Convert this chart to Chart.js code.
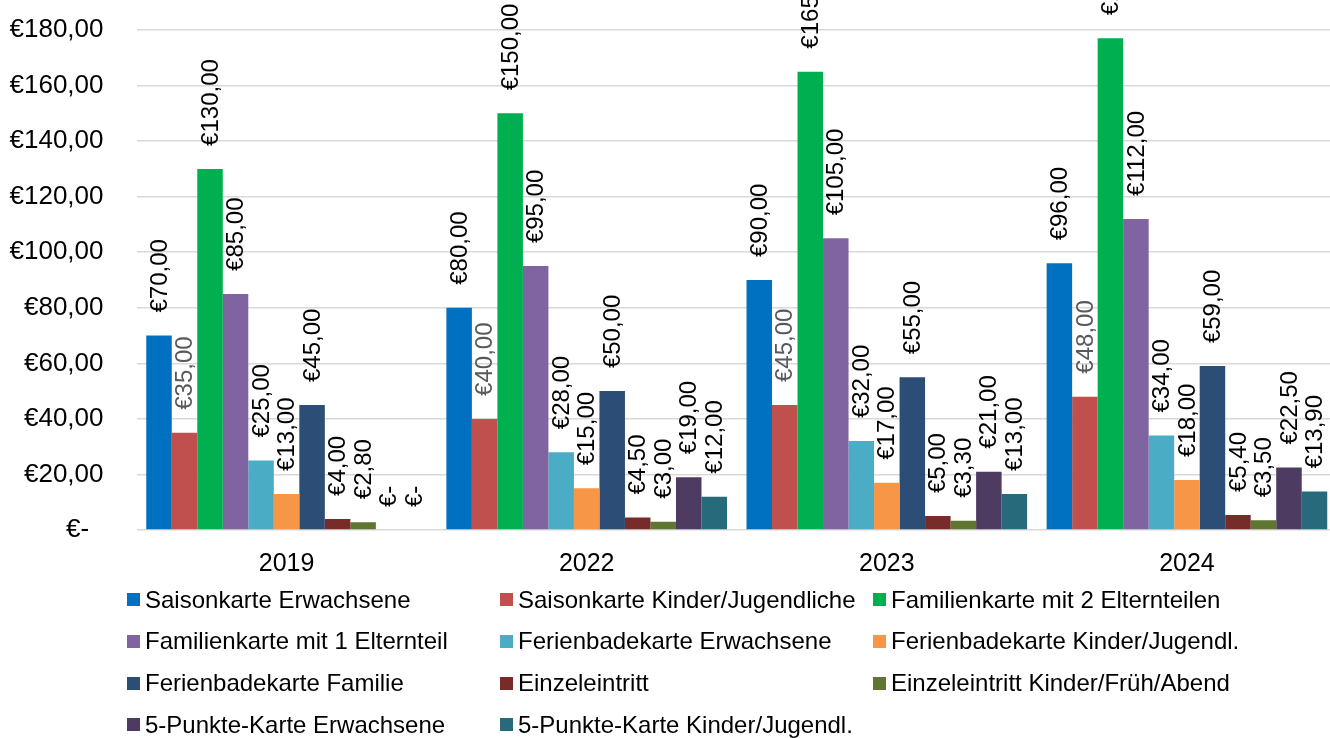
<!DOCTYPE html>
<html>
<head>
<meta charset="utf-8">
<script src="https://cdn.jsdelivr.net/npm/chart.js@4/dist/chart.umd.min.js"></script>
<style>
  html, body { margin: 0; padding: 0; background: #fff; overflow: hidden; width: 1330px; height: 738px; }
  #wrap { position: relative; width: 1330px; height: 738px; overflow: hidden; }
  #c { position: absolute; left: 0; top: 0; }
  .lg { position: absolute; display: flex; align-items: center; font-family: "Liberation Sans", Arial, sans-serif; font-size: 24px; color: #000; white-space: nowrap; height: 30px; }
  .lg i { display: inline-block; width: 13px; height: 13px; margin-right: 5px; }
</style>
</head>
<body>
<div id="wrap">
  <canvas id="c" width="1337" height="738"></canvas>
</div>
<script>
const categories = ["2019", "2022", "2023", "2024"];

const seriesNames = [
  "Saisonkarte Erwachsene",
  "Saisonkarte Kinder/Jugendliche",
  "Familienkarte mit 2 Elternteilen",
  "Familienkarte mit 1 Elternteil",
  "Ferienbadekarte Erwachsene",
  "Ferienbadekarte Kinder/Jugendl.",
  "Ferienbadekarte Familie",
  "Einzeleintritt",
  "Einzeleintritt Kinder/Früh/Abend",
  "5-Punkte-Karte Erwachsene",
  "5-Punkte-Karte Kinder/Jugendl."
];

const seriesColors = [
  "#0070C0", "#C0504D", "#00B050", "#8064A2", "#4BACC6", "#F79646",
  "#2C4D75", "#772C2A", "#5F7530", "#4D3B62", "#276A7C"
];

const saisonErw       = [70, 80, 90, 96];
const saisonKinder    = [35, 40, 45, 48];
const familie2        = [130, 150, 165, 177];
const familie1        = [85, 95, 105, 112];
const ferienErw       = [25, 28, 32, 34];
const ferienKinder    = [13, 15, 17, 18];
const ferienFamilie   = [45, 50, 55, 59];
const einzel          = [4, 4.5, 5, 5.4];
const einzelKinder    = [2.8, 3, 3.3, 3.5];
const punkteErw       = [0, 19, 21, 22.5];
const punkteKinder    = [0, 12, 13, 13.9];

const seriesValues = [saisonErw, saisonKinder, familie2, familie1, ferienErw, ferienKinder,
  ferienFamilie, einzel, einzelKinder, punkteErw, punkteKinder];

const yTicks = [0, 20, 40, 60, 80, 100, 120, 140, 160, 180];

function euro(v) {
  if (v === 0) return "€-";
  return "€" + v.toFixed(2).replace(".", ",");
}

const FONT = '"Liberation Sans", Arial, sans-serif';

const labelPlugin = {
  id: "barLabels",
  afterDatasetsDraw(chart) {
    const ctx = chart.ctx;
    ctx.save();
    ctx.font = "24px " + FONT;
    ctx.textAlign = "left";
    ctx.textBaseline = "middle";
    chart.data.datasets.forEach((ds, i) => {
      const meta = chart.getDatasetMeta(i);
      meta.data.forEach((el, j) => {
        const v = ds.data[j];
        ctx.save();
        ctx.translate(el.x, el.y - 23);
        ctx.rotate(-Math.PI / 2);
        ctx.fillStyle = i === 1 ? "#595959" : "#000000";
        ctx.fillText(euro(v), 0, 1);
        ctx.restore();
      });
    });
    ctx.restore();
  }
};

new Chart(document.getElementById("c"), {
  type: "bar",
  data: {
    labels: categories,
    datasets: seriesNames.map((n, i) => ({
      label: n,
      data: seriesValues[i],
      backgroundColor: seriesColors[i],
      borderWidth: 0,
      categoryPercentage: 0.935,
      barPercentage: 1.0
    }))
  },
  options: {
    responsive: false,
    animation: false,
    devicePixelRatio: 1,
    layout: { padding: { left: 0, right: 0, top: 30, bottom: 148 } },
    plugins: { legend: { display: false }, tooltip: { enabled: false } },
    scales: {
      x: {
        grid: { display: false },
        border: { display: false },
        ticks: { font: { family: FONT, size: 25 }, color: "#000", padding: 11 },
        afterFit(s) { s.height = 60; s.paddingLeft = 0; s.paddingRight = 0; }
      },
      y: {
        min: 0, max: 180,
        afterBuildTicks(s) { s.ticks = yTicks.map(v => ({ value: v })); },
        grid: { color: "#d9d9d9", lineWidth: 1.5, drawTicks: false },
        border: { display: false },
        ticks: {
          font: { family: FONT, size: 26 }, color: "#000", padding: 33,
          callback: v => v === 0 ? "€-  " : euro(v)
        },
        afterFit(s) { s.width = 136.5; s.paddingTop = 0; s.paddingBottom = 0; }
      }
    }
  },
  plugins: [labelPlugin]
});

// HTML legend, 3 columns
const wrap = document.getElementById("wrap");
seriesNames.forEach((n, i) => {
  const col = i % 3, row = Math.floor(i / 3);
  const d = document.createElement("div");
  d.className = "lg";
  d.style.left = (127 + col * 373) + "px";
  d.style.top = (599.5 + row * 41.8 - 15) + "px";
  const m = document.createElement("i");
  m.style.background = seriesColors[i];
  d.appendChild(m);
  d.appendChild(document.createTextNode(n));
  wrap.appendChild(d);
});
</script>
</body>
</html>
